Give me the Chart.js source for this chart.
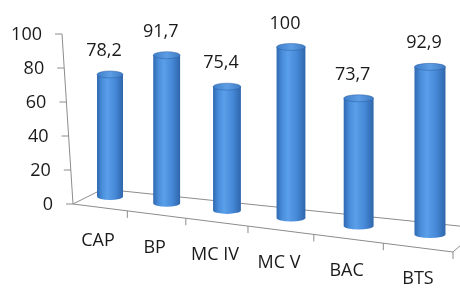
<!DOCTYPE html>
<html>
<head>
<meta charset="utf-8">
<script src="https://cdn.jsdelivr.net/npm/chart.js@4/dist/chart.umd.min.js"></script>
<style>
  html, body { margin: 0; padding: 0; background: #fff; }
  #wrap { width: 460px; height: 289px; }
</style>
</head>
<body>
<div id="wrap"><canvas id="chart"></canvas></div>
<script>
// chart data
const categories = ['CAP', 'BP', 'MC IV', 'MC V', 'BAC', 'BTS'];
const values = [78.2, 91.7, 75.4, 100, 73.7, 92.9];
const yTicks = [0, 20, 40, 60, 80, 100];

const FONT = '"Open Sans", sans-serif';
const LINE = '#8c8c8c';

// fake 3D: warp bar x positions and tilt the floor
function warpX(x) {
    const u = (x - 109.4) / 314.2;
    return x + 0.6 - 40.1 * u + 45.9 * u * u;
}
function frontY(x, area) {
    return area.bottom + (x - 73) * 48 / 380;
}

function cylinder(ctx, cx, bottom, top, rx, ry) {
    const g = ctx.createLinearGradient(cx - rx, 0, cx + rx, 0);
    g.addColorStop(0, '#2f69b1');
    g.addColorStop(0.2, '#4a8edb');
    g.addColorStop(0.4, '#5a9fe9');
    g.addColorStop(0.7, '#4689d8');
    g.addColorStop(1, '#2f66aa');
    ctx.beginPath();
    ctx.moveTo(cx - rx, top);
    ctx.lineTo(cx - rx, bottom);
    ctx.ellipse(cx, bottom, rx, ry, 0, Math.PI, 0, true);
    ctx.lineTo(cx + rx, top);
    ctx.closePath();
    ctx.fillStyle = g;
    ctx.fill();

    const gt = ctx.createLinearGradient(cx - rx, 0, cx + rx, 0);
    gt.addColorStop(0, '#3f7fca');
    gt.addColorStop(0.5, '#5c9de4');
    gt.addColorStop(1, '#3f7cc4');
    ctx.beginPath();
    ctx.ellipse(cx, top, rx, ry, 0, 0, Math.PI * 2);
    ctx.fillStyle = gt;
    ctx.fill();
    ctx.strokeStyle = 'rgba(40,90,160,0.6)';
    ctx.lineWidth = 0.8;
    ctx.stroke();
}

const floorPlugin = {
    id: 'floor3d',
    beforeDatasetsDraw(chart) {
        const { ctx, chartArea: a, scales } = chart;
        const y = scales.y;
        ctx.save();
        ctx.strokeStyle = LINE;
        ctx.lineWidth = 1;

        // slanted value axis with ticks
        const axisX = v => 73 - (a.bottom - y.getPixelForValue(v)) * 11 / 170;
        ctx.beginPath();
        ctx.moveTo(axisX(100), y.getPixelForValue(100));
        ctx.lineTo(axisX(0), y.getPixelForValue(0));
        yTicks.forEach(v => {
            const py = y.getPixelForValue(v);
            ctx.moveTo(axisX(v) - 7, py);
            ctx.lineTo(axisX(v), py);
        });
        ctx.stroke();

        ctx.fillStyle = '#1a1a1a';
        ctx.font = '18px ' + FONT;
        ctx.textAlign = 'right';
        ctx.textBaseline = 'middle';
        yTicks.forEach(v => {
            const py = y.getPixelForValue(v);
            ctx.fillText(String(v), axisX(v) - 20, py + 1);
        });

        // floor outline
        ctx.beginPath();
        ctx.moveTo(73, frontY(73, a));
        ctx.lineTo(103, a.bottom - 15);
        ctx.lineTo(462, a.bottom - 15 + (462 - 103) * 0.104);
        ctx.moveTo(73, frontY(73, a));
        ctx.lineTo(453, frontY(453, a));
        ctx.lineTo(462, frontY(453, a) - 8);
        ctx.stroke();

        // category separators on front edge
        const meta = chart.getDatasetMeta(0);
        const xs = meta.data.map(el => warpX(el.x));
        ctx.beginPath();
        for (let i = 0; i < xs.length - 1; i++) {
            const bx = (xs[i] + xs[i + 1]) / 2 - 11;
            const by = frontY(bx, a);
            ctx.moveTo(bx, by);
            ctx.lineTo(bx, by + 7);
        }
        ctx.moveTo(453, frontY(453, a));
        ctx.lineTo(453, frontY(453, a) + 7);
        ctx.stroke();
        ctx.restore();
    },
    afterDatasetsDraw(chart) {
        const { ctx, chartArea: a } = chart;
        const meta = chart.getDatasetMeta(0);
        ctx.save();
        meta.data.forEach((el, i) => {
            const cx = warpX(el.x);
            const t = (cx - 110) / 320;
            const ppu = (1.65 + 0.23 * t) / 1.7;
            const rx = (26 + 5 * t) / 2;
            const ry = 3.5;
            const bottomEdge = a.bottom - 4 + 38 * t;
            const h = (el.base - el.y) * ppu;
            const topEdge = bottomEdge - h;
            cylinder(ctx, cx, bottomEdge - ry, topEdge + ry, rx, ry);

            ctx.fillStyle = '#1a1a1a';
            ctx.font = '18px ' + FONT;
            ctx.textAlign = 'center';
            ctx.textBaseline = 'bottom';
            ctx.fillText(String(values[i]).replace('.', ','), cx - 6, topEdge - 11);

            ctx.textBaseline = 'middle';
            ctx.fillText(categories[i], cx - 12, bottomEdge + 41);
        });
        ctx.restore();
    }
};

new Chart(document.getElementById('chart'), {
    type: 'bar',
    data: {
        labels: categories,
        datasets: [{
            data: values,
            backgroundColor: 'rgba(0,0,0,0)',
            borderWidth: 0
        }]
    },
    options: {
        responsive: true,
        maintainAspectRatio: false,
        animation: false,
        layout: { padding: { left: 78, right: 5, top: 34, bottom: 85 } },
        plugins: {
            legend: { display: false },
            tooltip: { enabled: false }
        },
        scales: {
            x: { display: false },
            y: { display: false, min: 0, max: 100, ticks: { stepSize: 20 } }
        }
    },
    plugins: [floorPlugin]
});
</script>
</body>
</html>
